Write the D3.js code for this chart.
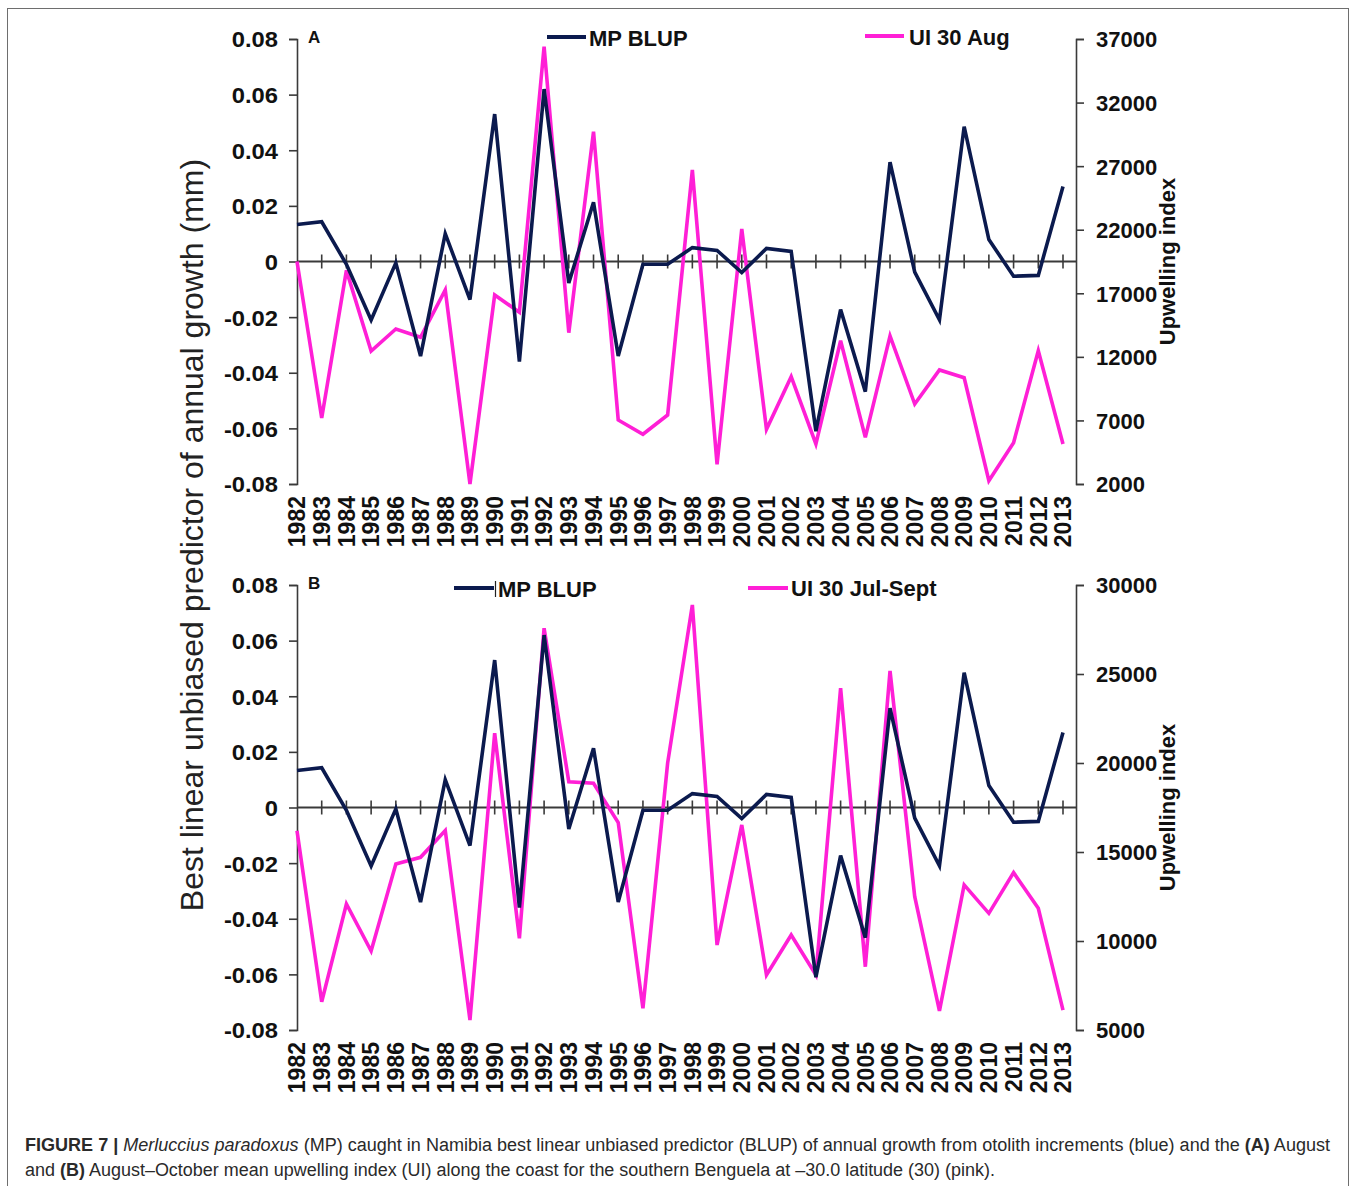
<!DOCTYPE html>
<html>
<head>
<meta charset="utf-8">
<script src="https://cdn.jsdelivr.net/npm/d3@7/dist/d3.min.js"></script>
<style>
  html, body { margin: 0; padding: 0; background: #fff; }
  svg { display: block; }
  .tick-label { font-family: "Liberation Sans", Arial, sans-serif; font-weight: bold; fill: #111; }
</style>
</head>
<body>
<svg id="chart" width="1357" height="1186"></svg>
<script>
// ---------------- DATA ----------------
const years = [1982,1983,1984,1985,1986,1987,1988,1989,1990,1991,1992,1993,1994,1995,1996,1997,
               1998,1999,2000,2001,2002,2003,2004,2005,2006,2007,2008,2009,2010,2011,2012,2013];

// MP BLUP (mm) - same series in both panels
const mpBlup = [0.0133, 0.0143, -0.001, -0.021, -0.0005, -0.034, 0.010, -0.0137, 0.053, -0.036,
                0.062, -0.0077, 0.0213, -0.034, -0.001, -0.001, 0.005, 0.004, -0.004, 0.0047,
                0.0036, -0.061, -0.0173, -0.0468, 0.0357, -0.0038, -0.021, 0.0485, 0.0079, -0.0053,
                -0.005, 0.027];

// Panel A: UI 30 Aug
const uiAug = [19500, 7190, 18800, 12460, 14190, 13540, 17260, 2000, 16870, 15505,
               36400, 13900, 29710, 7035, 5910, 7430, 26700, 3550, 22055, 6300,
               10440, 5150, 13270, 5670, 13640, 8290, 10970, 10360, 2260, 5250,
               12480, 5150];

// Panel B: UI 30 Jul-Sept
const uiJulSep = [16200, 6590, 12080, 9440, 14330, 14700, 16200, 5560, 21670, 10150,
                  27570, 18950, 18860, 16650, 6220, 20000, 28880, 9775, 16520, 8090,
                  10340, 8090, 24200, 8555, 25170, 12490, 6070, 13150, 11555, 13840,
                  11835, 6120];

const leftTicks = [-0.08, -0.06, -0.04, -0.02, 0, 0.02, 0.04, 0.06, 0.08];
const rightTicksA = [2000, 7000, 12000, 17000, 22000, 27000, 32000, 37000];
const rightTicksB = [5000, 10000, 15000, 20000, 25000, 30000];

const panels = [
  { label: "A", top: 39, bottom: 484, ui: uiAug, rightDomain: [2000, 37000], rightTicks: rightTicksA,
    leg1: { x1: 547, x2: 586, y: 37, tx: 589, ty: 46 }, leg2: { x1: 865, x2: 904, y: 36, tx: 909, ty: 45, text: "UI 30 Aug" }, bar: false },
  { label: "B", top: 585, bottom: 1030, ui: uiJulSep, rightDomain: [5000, 30000], rightTicks: rightTicksB,
    leg1: { x1: 454, x2: 494, y: 588, tx: 498, ty: 597 }, leg2: { x1: 748, x2: 788, y: 588, tx: 791, ty: 596, text: "UI 30 Jul-Sept" }, bar: true }
];

// ---------------- STYLE ----------------
const BLUE = "#0b1a4e";
const PINK = "#ff1fd6";
const AXIS = "#3a3a3a";
const leftX = 297, rightX = 1076;

const svg = d3.select("#chart");

// frame
svg.append("rect").attr("x", 7.5).attr("y", 8.5).attr("width", 1341).attr("height", 1220)
  .attr("fill", "none").attr("stroke", "#6e6e6e").attr("stroke-width", 1);

const x = d3.scalePoint().domain(years).range([leftX, 1063]);

panels.forEach(p => {
  const yL = d3.scaleLinear().domain([-0.08, 0.08]).range([p.bottom, p.top]);
  const yR = d3.scaleLinear().domain(p.rightDomain).range([p.bottom, p.top]);
  const g = svg.append("g");

  // left axis
  const la = g.append("g").attr("transform", `translate(${leftX},0)`)
    .call(d3.axisLeft(yL).tickValues(leftTicks).tickSize(8).tickPadding(11)
      .tickFormat(d => d === 0 ? "0" : d3.format(".2f")(d).replace("−", "-")));
  la.select(".domain").attr("stroke", AXIS).attr("stroke-width", 1.6);
  la.selectAll(".tick line").attr("stroke", AXIS).attr("stroke-width", 1.6);
  la.selectAll(".tick text").attr("class", "tick-label").style("font-size", "22px")
    .attr("dy", "0.36em").attr("transform", "scale(1.08,1)").attr("x", -19 / 1.08);

  // right axis
  const ra = g.append("g").attr("transform", `translate(${rightX},0)`)
    .call(d3.axisRight(yR).tickValues(p.rightTicks).tickSize(8).tickPadding(12).tickFormat(d3.format("d")));
  ra.select(".domain").attr("stroke", AXIS).attr("stroke-width", 1.6);
  ra.selectAll(".tick line").attr("stroke", AXIS).attr("stroke-width", 1.6);
  ra.selectAll(".tick text").attr("class", "tick-label").style("font-size", "22px").attr("dy", "0.36em");

  // zero (category) axis
  const y0 = yL(0);
  g.append("line").attr("x1", leftX).attr("x2", rightX).attr("y1", y0).attr("y2", y0)
    .attr("stroke", AXIS).attr("stroke-width", 1.8);
  g.selectAll(".cat-tick").data(years.slice(1)).enter().append("line")
    .attr("x1", d => x(d)).attr("x2", d => x(d)).attr("y1", y0 - 7).attr("y2", y0 + 7)
    .attr("stroke", AXIS).attr("stroke-width", 1.6);

  // year labels
  g.selectAll(".year").data(years).enter().append("text")
    .attr("class", "tick-label")
    .attr("transform", d => `translate(${x(d)},${p.bottom + 12}) rotate(-90)`)
    .attr("text-anchor", "end").attr("dy", "0.36em")
    .style("font-size", "23px")
    .text(d => d);

  // lines
  const lineR = d3.line().x((d, i) => x(years[i])).y(d => yR(d));
  const lineL = d3.line().x((d, i) => x(years[i])).y(d => yL(d));
  g.append("path").datum(p.ui).attr("d", lineR).attr("fill", "none")
    .attr("stroke", PINK).attr("stroke-width", 3.6).attr("stroke-linejoin", "miter");
  g.append("path").datum(mpBlup).attr("d", lineL).attr("fill", "none")
    .attr("stroke", BLUE).attr("stroke-width", 3.6).attr("stroke-linejoin", "miter");

  // panel letter
  g.append("text").attr("x", 308).attr("y", p.top + 4).attr("class", "tick-label")
    .style("font-size", "17px").text(p.label);

  // legend
  g.append("line").attr("x1", p.leg1.x1).attr("x2", p.leg1.x2).attr("y1", p.leg1.y).attr("y2", p.leg1.y)
    .attr("stroke", BLUE).attr("stroke-width", 4);
  if (p.bar) {
    g.append("line").attr("x1", p.leg1.x2 + 1.5).attr("x2", p.leg1.x2 + 1.5)
      .attr("y1", p.leg1.y - 7).attr("y2", p.leg1.y + 9).attr("stroke", "#222").attr("stroke-width", 1.2);
  }
  g.append("text").attr("x", p.leg1.tx).attr("y", p.leg1.ty).attr("class", "tick-label")
    .style("font-size", "22px").text("MP BLUP");
  g.append("line").attr("x1", p.leg2.x1).attr("x2", p.leg2.x2).attr("y1", p.leg2.y).attr("y2", p.leg2.y)
    .attr("stroke", PINK).attr("stroke-width", 4);
  g.append("text").attr("x", p.leg2.tx).attr("y", p.leg2.ty).attr("class", "tick-label")
    .style("font-size", "22px").text(p.leg2.text);

  // right axis title
  g.append("text").attr("transform", `translate(1175,${y0}) rotate(-90)`)
    .attr("text-anchor", "middle").attr("class", "tick-label")
    .style("font-size", "22px").text("Upwelling index");
});

// left axis title
svg.append("text")
  .attr("transform", "translate(203,535) rotate(-90)")
  .attr("text-anchor", "middle")
  .style("font-family", "\"Liberation Sans\", Arial, sans-serif")
  .style("font-size", "32px").style("fill", "#222")
  .text("Best linear unbiased predictor of annual growth (mm)");

// caption
const cap = svg.append("g")
  .style("font-family", "\"Liberation Sans\", Arial, sans-serif")
  .style("font-size", "18px").style("fill", "#2a2a2a");
const l1 = cap.append("text").attr("x", 25).attr("y", 1151)
  .attr("textLength", 1305).attr("lengthAdjust", "spacingAndGlyphs");
l1.append("tspan").style("font-weight", "bold").text("FIGURE 7 | ");
l1.append("tspan").style("font-style", "italic").text("Merluccius paradoxus");
l1.append("tspan").text(" (MP) caught in Namibia best linear unbiased predictor (BLUP) of annual growth from otolith increments (blue) and the ");
l1.append("tspan").style("font-weight", "bold").text("(A)");
l1.append("tspan").text(" August");
const l2 = cap.append("text").attr("x", 25).attr("y", 1176)
  .attr("textLength", 970).attr("lengthAdjust", "spacingAndGlyphs");
l2.append("tspan").text("and ");
l2.append("tspan").style("font-weight", "bold").text("(B)");
l2.append("tspan").text(" August\u2013October mean upwelling index (UI) along the coast for the southern Benguela at \u201330.0 latitude (30) (pink).");
</script>
</body>
</html>
